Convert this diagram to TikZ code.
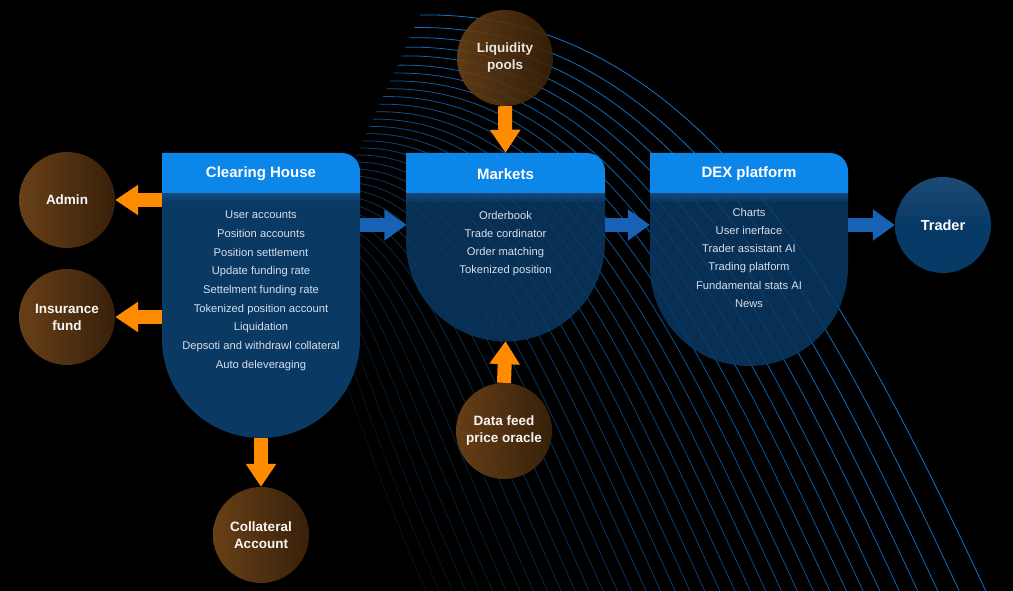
\documentclass[tikz,border=0pt]{standalone}
\usepackage{fontspec}
\setmainfont{Liberation Sans}
\usetikzlibrary{arrows.meta}
\definecolor{hdr}{RGB}{12,134,232}
\definecolor{bodyc}{RGB}{10,57,100}
\definecolor{bodyhi}{RGB}{30,88,145}
\definecolor{navy}{RGB}{8,58,104}
\definecolor{brownA}{RGB}{108,66,24}
\definecolor{brownB}{RGB}{58,34,10}
\definecolor{orng}{RGB}{255,140,0}
\definecolor{arrblue}{RGB}{24,98,182}
\definecolor{listc}{RGB}{214,222,234}
\definecolor{wave}{RGB}{18,122,214}
\begin{document}
\begin{tikzpicture}[x=1pt,y=1pt,
  hdrtext/.style={text=white,font=\fontsize{15}{17}\selectfont\bfseries},
  listtext/.style={text=listc,align=center,anchor=north,inner sep=0pt},
  brownnode/.style={circle,minimum size=96pt,inner sep=0pt,left color=brownA,right color=brownB,text=white,font=\fontsize{13.5}{17}\selectfont\bfseries,align=center},
  tradernode/.style={circle,minimum size=96pt,inner sep=0pt,top color=navy!92!white,bottom color=navy,middle color=navy,text=white,font=\fontsize{14.5}{17}\selectfont\bfseries},
  boxanchor/.style={rectangle,minimum width=198pt,inner sep=0pt},
  oarrow/.style={draw=orng,line width=14pt,-{Triangle[width=29pt,length=23pt]}},
  barrow/.style={draw=arrblue,line width=14pt,-{Triangle[width=30pt,length=22pt]}},
  bodyfill/.style={fill=bodyc,fill opacity=0.86},
  hdrfill/.style={fill=hdr}
]
\useasboundingbox (0,0) rectangle (1013,-591);
\fill[black] (0,0) rectangle (1013,-591);
\clip (0,0) rectangle (1013,-591);

% background wave lines
\foreach \i in {0,...,36}{
  \pgfmathsetmacro\s{(\i/36)^0.85}
  \pgfmathsetmacro\ax{420-120*\s}
  \pgfmathsetmacro\ay{-15-265*\s}
  \pgfmathsetmacro\bx{700-380*\s}
  \pgfmathsetmacro\by{-10-270*\s}
  \pgfmathsetmacro\cx{850-500*\s}
  \pgfmathsetmacro\cy{-300-120*\s}
  \pgfmathsetmacro\dx{990-560*\s}
  \pgfmathsetmacro\op{0.95-0.8*\s}
  \draw[wave,line width=0.8pt,draw opacity=\op] (\ax,\ay) .. controls (\bx,\by) and (\cx,\cy) .. (\dx,-600);
}

% invisible anchor boxes
\node[boxanchor,minimum height=285pt] (chbox) at (261,-295.5) {};
\node[boxanchor,minimum height=188pt] (mkbox) at (505.5,-247) {};
\node[boxanchor,minimum height=213pt] (dxbox) at (749,-259.5) {};

% Clearing House shape
\path[fill=bodyc] (162,-193) -- (162,-339) arc[start angle=180,end angle=360,radius=99] -- (360,-193) -- cycle;
\shade[top color=bodyhi,bottom color=bodyc,opacity=0.6] (162,-193) rectangle (360,-202);
\path[hdrfill] (162,-193) -- (162,-153) -- (342,-153) arc[start angle=90,end angle=0,radius=18] -- (360,-193) -- cycle;
% Markets shape
\path[bodyfill] (406,-193) -- (406,-242) arc[start angle=180,end angle=360,radius=99.5] -- (605,-193) -- cycle;
\shade[top color=bodyhi,bottom color=bodyc,opacity=0.6] (406,-193) rectangle (605,-202);
\path[hdrfill] (406,-193) -- (406,-153) -- (587,-153) arc[start angle=90,end angle=0,radius=18] -- (605,-193) -- cycle;
% DEX shape
\path[bodyfill] (650,-193) -- (650,-267) arc[start angle=180,end angle=360,radius=99] -- (848,-193) -- cycle;
\shade[top color=bodyhi,bottom color=bodyc,opacity=0.6] (650,-193) rectangle (848,-202);
\path[hdrfill] (650,-193) -- (650,-153) -- (830,-153) arc[start angle=90,end angle=0,radius=18] -- (848,-193) -- cycle;

% headers
\node[hdrtext] (chh) at (261,-174) {Clearing House};
\node[hdrtext] (mkh) at (505.5,-174) {Markets};
\node[hdrtext] (dxh) at (749,-174) {DEX platform};

% lists
\node[listtext,font=\fontsize{11.2}{18.65}\selectfont] (chl) at (261,-211) {User accounts\\Position accounts\\Position settlement\\Update funding rate\\Settelment funding rate\\Tokenized position account\\Liquidation\\Depsoti and withdrawl collateral\\Auto deleveraging};
\node[listtext,font=\fontsize{11.2}{18}\selectfont] (mkl) at (505.5,-211) {Orderbook\\Trade cordinator\\Order matching\\Tokenized position};
\node[listtext,font=\fontsize{11.2}{18.2}\selectfont] (dxl) at (749,-208) {Charts\\User inerface\\Trader assistant AI\\Trading platform\\Fundamental stats AI\\News};

% circles
\node[brownnode,opacity=0.97] (admin) at (67,-200) {Admin};
\node[brownnode,opacity=0.97] (ins) at (67,-317) {Insurance\\fund};
\node[brownnode,opacity=0.88] (liq) at (505,-58) {Liquidity\\pools};
\node[brownnode,opacity=0.95] (feed) at (504,-431) {Data feed\\price oracle};
\node[brownnode,opacity=0.97] (coll) at (261,-535) {Collateral\\Account};
\node[tradernode] (trader) at (943,-225) {Trader};

% connectors
\draw[oarrow] (chbox.west |- admin.center) -- (admin.east);
\draw[oarrow] (chbox.west |- ins.center) -- (ins.east);
\draw[oarrow] (chbox.south) -- (coll.north);
\draw[oarrow] (liq.south) -- (mkbox.north);
\draw[oarrow] (feed.north) -- (mkbox.south);
\draw[barrow] (chbox.east |- trader.center) -- (mkbox.west |- trader.center);
\draw[barrow] (mkbox.east |- trader.center) -- (dxbox.west |- trader.center);
\draw[barrow] (dxbox.east |- trader.center) -- (trader.west);
\end{tikzpicture}
\end{document}
